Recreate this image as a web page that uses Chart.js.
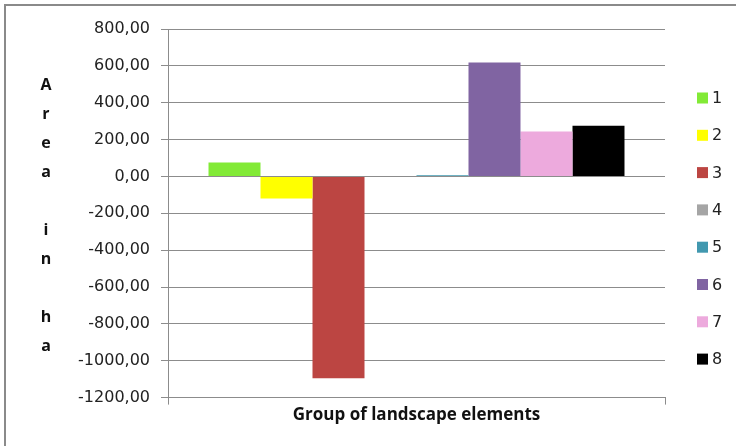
<!DOCTYPE html>
<html>
<head>
<meta charset="utf-8">
<script src="https://cdn.jsdelivr.net/npm/chart.js@4.4.1/dist/chart.umd.min.js"></script>
<style>
  html, body { margin: 0; padding: 0; background: #fff; }
  #wrap { width: 736px; height: 446px; position: relative; }
</style>
</head>
<body>
<div id="wrap"><canvas id="myChart" width="736" height="446"></canvas></div>
<script>
//Category (only one group) and the series names
const categories = [''];
const seriesNames = ['1', '2', '3', '4', '5', '6', '7', '8'];

//Values, one per series
const seriesValues = [76, -120, -1095, 3, 6, 618, 244, 275];

//Colours of the series
const seriesColors = ['#82EA36', '#FFFF00', '#BC4542', '#A5A5A5', '#4198AF', '#8064A2', '#EDAADD', '#000000'];

//Axis texts
const yTitleLetters = ['A', 'r', 'e', 'a', '', 'i', 'n', '', 'h', 'a'];
const xTitle = 'Group of landscape elements';

const tickFont = "'DejaVu Sans', sans-serif";
const titleFont = "'Open Sans', 'Noto Sans', sans-serif";
const gridColor = '#8C8C8C';

//Draws the outer frame, the stacked y title and the legend on the right
const extras = {
    id: 'extras',
    beforeDraw(chart) {
        const ctx = chart.ctx;
        ctx.save();
        ctx.strokeStyle = '#8A8A8A';
        ctx.lineWidth = 2;
        ctx.strokeRect(5, 5, 900, 900);
        ctx.restore();
    },
    afterDraw(chart) {
        const ctx = chart.ctx;
        ctx.save();

        //y title, one letter a line
        ctx.fillStyle = '#111';
        ctx.font = "bold 16px " + titleFont;
        ctx.textAlign = 'center';
        ctx.textBaseline = 'middle';
        for (let i = 0; i < yTitleLetters.length; i++) {
            ctx.fillText(yTitleLetters[i], 46, 85 + i * 29);
        }

        //legend
        ctx.font = "16px " + tickFont;
        ctx.textAlign = 'left';
        chart.data.datasets.forEach((ds, i) => {
            const cy = 98 + i * 37.3;
            ctx.fillStyle = ds.backgroundColor;
            ctx.fillRect(697, cy - 5.5, 11, 11);
            ctx.fillStyle = '#222';
            ctx.fillText(ds.label, 712, cy + 1);
        });
        ctx.restore();
    }
};

const datasets = seriesNames.map((name, i) => ({
    label: name,
    data: [seriesValues[i]],
    backgroundColor: seriesColors[i],
    borderWidth: 0,
    barPercentage: 1,
    categoryPercentage: 0.837
}));

const ctx = document.getElementById('myChart').getContext('2d');

const myChart = new Chart(ctx, {
    type: 'bar',
    data: {
        labels: categories,
        datasets: datasets
    },
    options: {
        responsive: false,
        animation: false,
        layout: {
            padding: { left: 4, top: 29, right: 71, bottom: 21 }
        },
        plugins: {
            legend: { display: false },
            tooltip: { enabled: false }
        },
        scales: {
            x: {
                offset: true,
                grid: {
                    display: true,
                    drawOnChartArea: false,
                    color: gridColor,
                    tickLength: 7
                },
                border: { color: gridColor },
                ticks: { display: false },
                title: {
                    display: true,
                    text: xTitle,
                    color: '#111',
                    font: { family: titleFont, size: 17, weight: 'bold' },
                    padding: { top: 0, bottom: 0 }
                }
            },
            y: {
                min: -1200,
                max: 800,
                afterFit: s => { s.width = 164; },
                grid: {
                    color: gridColor,
                    tickLength: 7
                },
                border: { color: gridColor },
                ticks: {
                    stepSize: 200,
                    padding: 11,
                    color: '#222',
                    font: { family: tickFont, size: 16 },
                    callback: v => v.toFixed(2).replace('.', ',')
                }
            }
        }
    },
    plugins: [extras]
});
</script>
</body>
</html>
